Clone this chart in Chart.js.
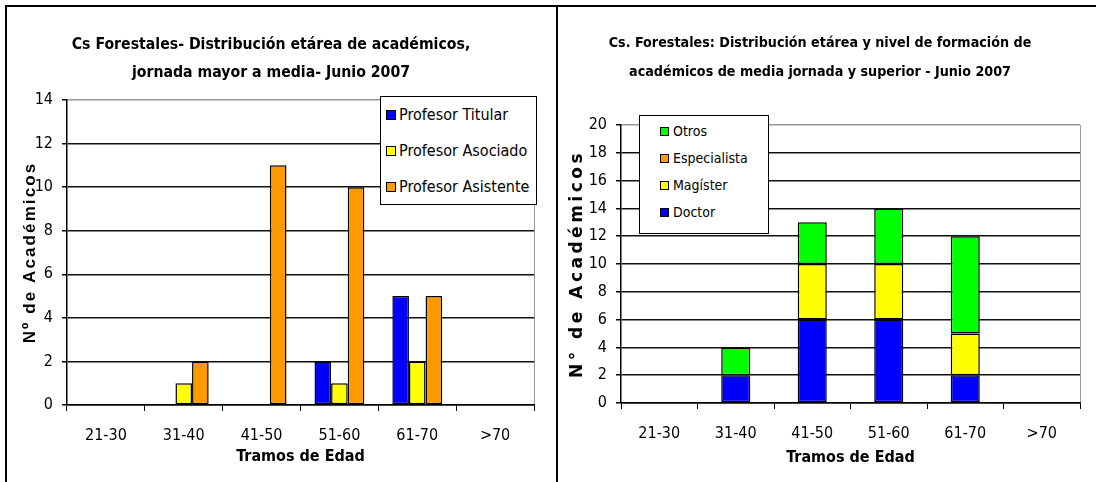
<!DOCTYPE html>
<html lang="es">
<head>
  <meta charset="UTF-8">
  <title>Cs Forestales - distribución etárea de académicos</title>
  <script src="https://cdn.jsdelivr.net/npm/chart.js@4.4.1/dist/chart.umd.min.js"></script>
  <style>
    body {
      margin: 0;
      width: 1096px;
      height: 482px;
      position: relative;
      overflow: hidden;
      background: #fff;
      font-family: "Liberation Sans Narrow", "Arial Narrow", "DejaVu Sans Condensed", sans-serif;
    }
    .linea { position: absolute; background: #000; }
    canvas { position: absolute; }
    .leyenda {
      position: absolute;
      background: #fff;
      border: 1.5px solid #000;
      box-sizing: border-box;
      color: #000;
    }
    .item { position: relative; white-space: nowrap; }
    .item span.cuadro {
      position: absolute;
      border: 1px solid #000;
      box-sizing: border-box;
    }
  </style>
</head>
<body>
  <!-- marco de la imagen -->
  <div class="linea" style="left:5px; top:5px; width:1091px; height:2px"></div>
  <div class="linea" style="left:5px; top:5px; width:2px; height:477px"></div>
  <div class="linea" style="left:556px; top:5px; width:2px; height:477px"></div>

  <canvas id="izq" width="546" height="474" style="left:8px; top:8px"></canvas>
  <canvas id="der" width="536" height="474" style="left:560px; top:8px"></canvas>

  <div class="leyenda" id="leyIzq" style="left:380px; top:96px; width:157px; height:109px"></div>
  <div class="leyenda" id="leyDer" style="left:639px; top:115px; width:130px; height:119px"></div>

  <script>
    // datos
    const tramos = ["21-30", "31-40", "41-50", "51-60", "61-70", ">70"];

    // gráfico izquierdo: jerarquía
    const titular   = [0, 0, 0, 2, 5, 0];
    const asociado  = [0, 1, 0, 1, 2, 0];
    const asistente = [0, 2, 11, 10, 5, 0];

    // gráfico derecho: nivel de formación (apilado)
    const doctor       = [0, 2, 6, 6, 2, 0];
    const magister     = [0, 0, 4, 4, 3, 0];
    const especialista = [0, 0, 0, 0, 0, 0];
    const otros        = [0, 2, 3, 4, 7, 0];

    const maxIzq = 14, maxDer = 20, paso = 2;

    const tituloIzq = ["Cs Forestales- Distribución etárea de académicos,", "jornada mayor a media- Junio 2007"];
    const tituloDer = ["Cs. Forestales: Distribución etárea y nivel de formación de", "académicos de media jornada y superior - Junio 2007"];

    const angosta = '"Liberation Sans Narrow", "Arial Narrow", "DejaVu Sans Condensed", sans-serif';

    // espaciado entre letras para el título del eje y
    const espaciado = {
      id: "espaciado",
      beforeDraw(chart, args, opts) {
        const y = chart.scales.y;
        if (!y || y._espaciado) return;
        const original = y.drawTitle;
        y.drawTitle = function () {
          this.ctx.save();
          this.ctx.letterSpacing = (opts.px || 0) + "px";
          original.apply(this, arguments);
          this.ctx.restore();
        };
        y._espaciado = true;
      }
    };

    function barra(label, data, color) {
      return { label, data, backgroundColor: color, borderColor: "#000", borderWidth: 1.5, borderSkipped: false };
    }

    function ejes(max, anchoY, altoX, tituloY, fuenteY, padY, padTitX) {
      return {
        x: {
          grid: {
            offset: true,
            drawOnChartArea: true,
            // sólo el borde derecho del área (contexto de escala) en gris
            color: c => (c.tick ? "rgba(0,0,0,0)" : "#999"),
            tickColor: "#000",
            tickLength: 6,
            lineWidth: 1
          },
          border: { color: "#000", width: 1.5 },
          ticks: { color: "#000", font: { family: angosta, size: 16 }, padding: 15 },
          title: {
            display: true, text: "Tramos de Edad", color: "#000",
            font: { family: angosta, size: 16, weight: "bold" },
            padding: { top: 0, bottom: padTitX }
          },
          afterFit: s => { s.height = altoX; }
        },
        y: {
          min: 0, max: max,
          grid: {
            color: c => (c.tick && c.tick.value === max ? "#999" : "#111"),
            tickColor: "#000",
            tickLength: 5,
            lineWidth: 1.5
          },
          border: { color: "#000", width: 1.5 },
          ticks: { stepSize: paso, color: "#000", font: { family: angosta, size: 16 }, padding: 9 },
          title: {
            display: true, text: tituloY, color: "#000",
            font: fuenteY,
            padding: { top: padY, bottom: 0 }
          },
          afterFit: s => { s.width = anchoY; }
        }
      };
    }

    const grafIzq = new Chart(document.getElementById("izq"), {
      type: "bar",
      data: {
        labels: tramos,
        datasets: [
          barra("Profesor Titular", titular, "#0000ff"),
          barra("Profesor Asociado", asociado, "#ffff00"),
          barra("Profesor Asistente", asistente, "#ff9900")
        ]
      },
      options: {
        responsive: false,
        animation: false,
        layout: { padding: { left: 0, right: 20, top: 0, bottom: 0 } },
        datasets: { bar: { barPercentage: 1, categoryPercentage: 0.64 } },
        plugins: {
          legend: { display: false },
          tooltip: { enabled: false },
          espaciado: { px: 2.1 },
          title: {
            display: true, text: tituloIzq, color: "#000",
            font: { family: angosta, size: 15.7, weight: "bold", lineHeight: 28 / 15.7 },
            padding: { top: 23, bottom: 13 }
          }
        },
        scales: ejes(maxIzq, 59, 77, "Nº de Académicos",
          { family: "'Liberation Sans', Arial, sans-serif", size: 17, weight: "bold" }, 11.8, 16)
      },
      plugins: [espaciado]
    });

    const grafDer = new Chart(document.getElementById("der"), {
      type: "bar",
      data: {
        labels: tramos,
        datasets: [
          barra("Doctor", doctor, "#0000ff"),
          barra("Magíster", magister, "#ffff00"),
          barra("Especialista", especialista, "#ff9900"),
          barra("Otros", otros, "#00ff00")
        ]
      },
      options: {
        responsive: false,
        animation: false,
        layout: { padding: { left: 0, right: 16, top: 0, bottom: 0 } },
        datasets: { bar: { barPercentage: 1, categoryPercentage: 0.38 } },
        plugins: {
          legend: { display: false },
          tooltip: { enabled: false },
          espaciado: { px: 3.5 },
          title: {
            display: true, text: tituloDer, color: "#000",
            font: { family: angosta, size: 14.2, weight: "bold", lineHeight: 29 / 14.2 },
            padding: { top: 20.5, bottom: 38.5 }
          }
        },
        scales: (() => {
          const e = ejes(maxDer, 61, 79, "N° de Académicos",
            { family: "'DejaVu Sans', Verdana, sans-serif", size: 17, weight: "bold" }, 7.8, 15);
          e.x.stacked = true;
          e.y.stacked = true;
          return e;
        })()
      },
      plugins: [espaciado]
    });

    // leyendas dentro del área del gráfico, como en el original
    function leyenda(id, chart, orden, cfg) {
      const caja = document.getElementById(id);
      caja.style.paddingTop = cfg.arriba + "px";
      orden.forEach(i => {
        const ds = chart.data.datasets[i];
        const fila = document.createElement("div");
        fila.className = "item";
        fila.style.height = cfg.fila + "px";
        fila.style.lineHeight = cfg.fila + "px";
        fila.style.fontSize = cfg.fuente + "px";
        fila.style.paddingLeft = cfg.texto + "px";
        const c = document.createElement("span");
        c.className = "cuadro";
        c.style.left = cfg.cuadroX + "px";
        c.style.top = (cfg.fila - cfg.cuadro) / 2 + "px";
        c.style.width = cfg.cuadro + "px";
        c.style.height = cfg.cuadro + "px";
        c.style.background = ds.backgroundColor;
        fila.appendChild(c);
        fila.appendChild(document.createTextNode(ds.label));
        caja.appendChild(fila);
      });
    }

    leyenda("leyIzq", grafIzq, [0, 1, 2], { arriba: 0, fila: 36, fuente: 16, texto: 18, cuadroX: 5, cuadro: 10 });
    leyenda("leyDer", grafDer, [3, 2, 1, 0], { arriba: 2, fila: 27, fuente: 14, texto: 33, cuadroX: 20, cuadro: 9 });
  </script>
</body>
</html>
